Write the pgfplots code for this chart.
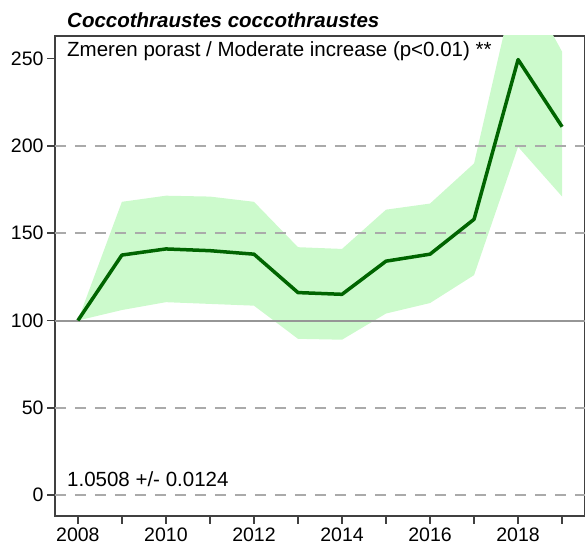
\documentclass[border=0pt]{standalone}
\usepackage{pgfplots}
\pgfplotsset{compat=1.18}
\usepackage{fontspec}
\setmainfont{Liberation Sans}
\definecolor{band}{RGB}{204,250,204}
\definecolor{ln}{RGB}{0,100,0}
\definecolor{gridc}{RGB}{170,170,170}
\definecolor{refc}{RGB}{150,150,150}
\definecolor{axc}{RGB}{64,64,64}
\begin{document}
\begin{tikzpicture}
\begin{axis}[
  name=ax,
  scale only axis, width=530pt, height=480pt,
  xmin=2007.48, xmax=2019.52, ymin=-12, ymax=263,
  xtick={2008,2010,2012,2014,2016,2018},
  minor xtick={2009,2011,2013,2015,2017,2019},
  ytick={0,50,100,150,200,250},
  tick align=outside, tick pos=left,
  major tick length=8pt, minor tick length=8pt,
  every tick/.style={axc, line width=1.5pt},
  minor tick style={axc, line width=1.5pt},
  axis line style={axc, line width=1.5pt},
  /pgf/number format/assume math mode=true,
  /pgf/number format/1000 sep={},
  xticklabel style={font=\fontsize{19.5}{22}\selectfont},
  yticklabel style={font=\fontsize{19.5}{22}\selectfont},
  clip=true,
]
% confidence band
\addplot[fill=band, draw=none] coordinates {
  (2008,100) (2009,168) (2010,171.5) (2011,171) (2012,168) (2013,142)
  (2014,141) (2015,163.5) (2016,167) (2017,190) (2018,300) (2019,254)
  (2019,171) (2018,199.5) (2017,126) (2016,110) (2015,104) (2014,89)
  (2013,89.5) (2012,108.5) (2011,109.5) (2010,110.5) (2009,106) (2008,100)
} -- cycle;
% grid lines
\addplot[gridc, line width=2.5pt, dash pattern=on 11pt off 9pt, dash phase=-20pt] coordinates {(2007.48,0) (2019.52,0)};
\addplot[gridc, line width=2.5pt, dash pattern=on 11pt off 9pt, dash phase=-20pt] coordinates {(2007.48,50) (2019.52,50)};
\addplot[gridc, line width=2.5pt, dash pattern=on 11pt off 9pt, dash phase=-20pt] coordinates {(2007.48,150) (2019.52,150)};
\addplot[gridc, line width=2.5pt, dash pattern=on 11pt off 9pt, dash phase=-20pt] coordinates {(2007.48,200) (2019.52,200)};
\addplot[refc, line width=2pt] coordinates {(2007.48,100) (2019.52,100)};
% index line
\addplot[ln, line width=3.5pt, line join=round] coordinates {
  (2008,100) (2009,137.5) (2010,141) (2011,140) (2012,138) (2013,116)
  (2014,115) (2015,134) (2016,138) (2017,158) (2018,249.5) (2019,211)
};
\end{axis}
\node[anchor=base west, inner sep=0pt, font=\fontsize{20.5}{24}\selectfont\bfseries\itshape]
  at ([xshift=12pt, yshift=8pt]ax.north west) {Coccothraustes coccothraustes};
\node[anchor=base west, inner sep=0pt, font=\fontsize{20.5}{24}\selectfont]
  at ([xshift=12pt, yshift=-21pt]ax.north west) {Zmeren porast / Moderate increase (p<0.01) **};
\node[anchor=base west, inner sep=0pt, font=\fontsize{20.5}{24}\selectfont]
  at ([xshift=12pt, yshift=29pt]ax.south west) {1.0508 +/- 0.0124};
\pgfresetboundingbox
\path ([xshift=-55pt, yshift=-32pt]ax.south west) rectangle ([yshift=36pt]ax.north east);
\end{tikzpicture}
\end{document}
